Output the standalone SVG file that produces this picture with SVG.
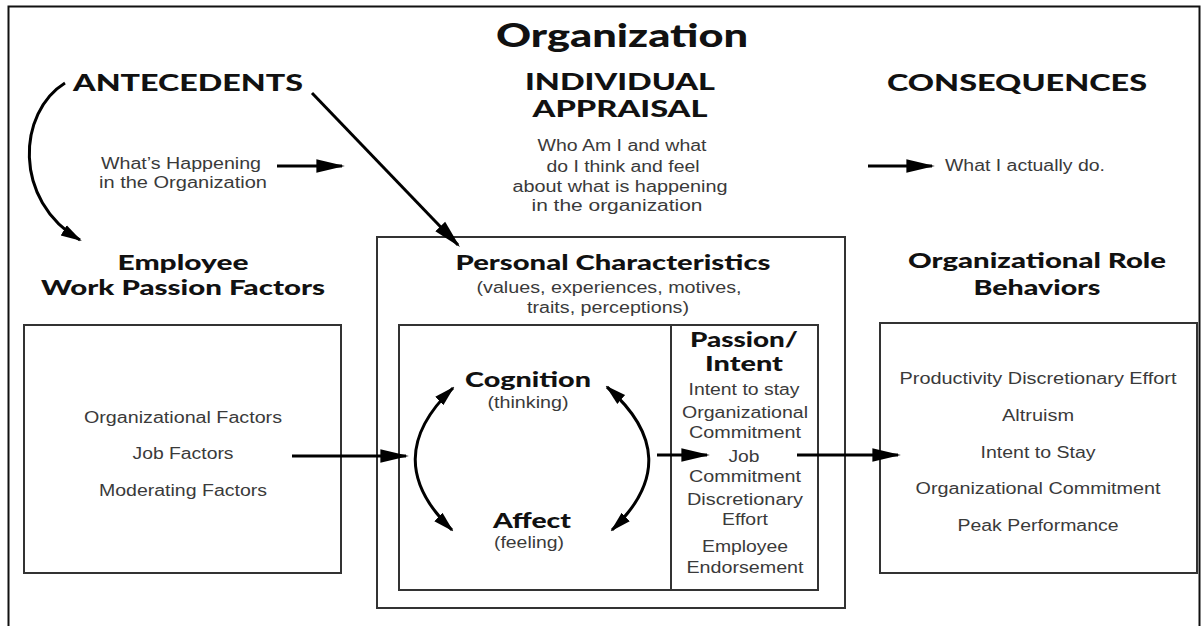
<svg xmlns="http://www.w3.org/2000/svg" width="1202" height="626" viewBox="0 0 1202 626">
  <style>
    .h { font-family: Lato, "Open Sans", "DejaVu Sans", sans-serif; font-weight: 900; fill: #111; text-anchor: middle; }
    .b { font-family: "Liberation Sans", Arial, sans-serif; font-size: 16px; fill: #3a3a3a; text-anchor: middle; }
    .box { fill: #fff; stroke: #333; stroke-width: 2; }
    .conn { fill: none; stroke: #000; stroke-width: 3; }
  </style>
  <defs>
    <marker id="ah" viewBox="0 0 10 10" refX="9" refY="5" markerWidth="9.5" markerHeight="9.5" orient="auto-start-reverse" markerUnits="strokeWidth">
      <path d="M0,2.6 L10,5 L0,7.4 Z" fill="#000"/>
    </marker>
    <marker id="ahs" viewBox="0 0 10 10" refX="9" refY="5" markerWidth="7" markerHeight="7" orient="auto-start-reverse" markerUnits="strokeWidth">
      <path d="M0,2.2 L10,5 L0,7.8 Z" fill="#000"/>
    </marker>
  </defs>

  <rect width="1202" height="626" fill="#fff"/>
  <!-- page frame -->
  <rect x="8.5" y="6.5" width="1191" height="640" fill="none" stroke="#111" stroke-width="2"/>

  <!-- column headings -->
  <g id="titles">
    <text class="h" x="622" y="47" font-size="33" textLength="252" lengthAdjust="spacingAndGlyphs">Organization</text>
    <text class="h" x="188" y="91" font-size="22" textLength="230" lengthAdjust="spacingAndGlyphs">ANTECEDENTS</text>
    <text class="h" x="620" y="90" font-size="22" textLength="190" lengthAdjust="spacingAndGlyphs">INDIVIDUAL</text>
    <text class="h" x="620" y="117" font-size="22" textLength="175" lengthAdjust="spacingAndGlyphs">APPRAISAL</text>
    <text class="h" x="1017" y="91" font-size="22" textLength="260" lengthAdjust="spacingAndGlyphs">CONSEQUENCES</text>
  </g>

  <g id="antecedents-note">
    <text class="b" x="181" y="169" textLength="160" lengthAdjust="spacingAndGlyphs">What’s Happening</text>
    <text class="b" x="183" y="188" textLength="168" lengthAdjust="spacingAndGlyphs">in the Organization</text>
  </g>

  <g id="appraisal-note">
    <text class="b" x="622" y="151" textLength="169" lengthAdjust="spacingAndGlyphs">Who Am I and what</text>
    <text class="b" x="623" y="172" textLength="153" lengthAdjust="spacingAndGlyphs">do I think and feel</text>
    <text class="b" x="620" y="192" textLength="215" lengthAdjust="spacingAndGlyphs">about what is happening</text>
    <text class="b" x="617" y="211" textLength="171" lengthAdjust="spacingAndGlyphs">in the organization</text>
  </g>

  <g id="consequences-note">
    <text class="b" x="945" y="171" textLength="160" lengthAdjust="spacingAndGlyphs" style="text-anchor:start">What I actually do.</text>
  </g>

  <!-- Employee Work Passion Factors -->
  <g id="work-passion-factors">
    <text class="h" x="183" y="270" font-size="21" textLength="131" lengthAdjust="spacingAndGlyphs">Employee</text>
    <text class="h" x="183" y="295" font-size="21" textLength="284" lengthAdjust="spacingAndGlyphs">Work Passion Factors</text>
    <rect class="box" x="24" y="325" width="317" height="248"/>
    <text class="b" x="183" y="423" textLength="198" lengthAdjust="spacingAndGlyphs">Organizational Factors</text>
    <text class="b" x="183" y="459" textLength="101" lengthAdjust="spacingAndGlyphs">Job Factors</text>
    <text class="b" x="183" y="496" textLength="168" lengthAdjust="spacingAndGlyphs">Moderating Factors</text>
  </g>

  <!-- Personal Characteristics -->
  <g id="personal-characteristics">
    <rect class="box" x="377" y="237" width="468" height="371"/>
    <text class="h" x="613" y="270" font-size="21" textLength="315" lengthAdjust="spacingAndGlyphs">Personal Characteristics</text>
    <text class="b" x="609" y="293" textLength="265" lengthAdjust="spacingAndGlyphs">(values, experiences, motives,</text>
    <text class="b" x="608" y="313" textLength="162" lengthAdjust="spacingAndGlyphs">traits, perceptions)</text>
    <rect class="box" x="399" y="325" width="419" height="265"/>
    <line x1="671" y1="325" x2="671" y2="590" stroke="#333" stroke-width="2"/>
  </g>

  <g id="cognition">
    <text class="h" x="528" y="387" font-size="21" textLength="126" lengthAdjust="spacingAndGlyphs">Cognition</text>
    <text class="b" x="528" y="408" textLength="81" lengthAdjust="spacingAndGlyphs">(thinking)</text>
  </g>

  <g id="affect">
    <text class="h" x="532" y="528" font-size="21" textLength="78" lengthAdjust="spacingAndGlyphs">Affect</text>
    <text class="b" x="529" y="548" textLength="70" lengthAdjust="spacingAndGlyphs">(feeling)</text>
  </g>

  <g id="passion-intent">
    <text class="h" x="744" y="347" font-size="21" textLength="108" lengthAdjust="spacingAndGlyphs">Passion/</text>
    <text class="h" x="744" y="371" font-size="21" textLength="78" lengthAdjust="spacingAndGlyphs">Intent</text>
    <text class="b" x="744" y="395" textLength="111" lengthAdjust="spacingAndGlyphs">Intent to stay</text>
    <text class="b" x="745" y="418" textLength="126" lengthAdjust="spacingAndGlyphs">Organizational</text>
    <text class="b" x="745" y="438" textLength="112" lengthAdjust="spacingAndGlyphs">Commitment</text>
    <text class="b" x="744" y="462" textLength="31" lengthAdjust="spacingAndGlyphs">Job</text>
    <text class="b" x="745" y="482" textLength="112" lengthAdjust="spacingAndGlyphs">Commitment</text>
    <text class="b" x="745" y="505" textLength="116" lengthAdjust="spacingAndGlyphs">Discretionary</text>
    <text class="b" x="745" y="525" textLength="46" lengthAdjust="spacingAndGlyphs">Effort</text>
    <text class="b" x="745" y="552" textLength="86" lengthAdjust="spacingAndGlyphs">Employee</text>
    <text class="b" x="745" y="573" textLength="117" lengthAdjust="spacingAndGlyphs">Endorsement</text>
  </g>

  <!-- Organizational Role Behaviors -->
  <g id="role-behaviors">
    <text class="h" x="1037" y="268" font-size="21" textLength="258" lengthAdjust="spacingAndGlyphs">Organizational Role</text>
    <text class="h" x="1037" y="295" font-size="21" textLength="127" lengthAdjust="spacingAndGlyphs">Behaviors</text>
    <rect class="box" x="880" y="323" width="317" height="250"/>
    <text class="b" x="1038" y="384" textLength="277" lengthAdjust="spacingAndGlyphs">Productivity Discretionary Effort</text>
    <text class="b" x="1038" y="421" textLength="72" lengthAdjust="spacingAndGlyphs">Altruism</text>
    <text class="b" x="1038" y="458" textLength="115" lengthAdjust="spacingAndGlyphs">Intent to Stay</text>
    <text class="b" x="1038" y="494" textLength="245" lengthAdjust="spacingAndGlyphs">Organizational Commitment</text>
    <text class="b" x="1038" y="531" textLength="161" lengthAdjust="spacingAndGlyphs">Peak Performance</text>
  </g>

  <g id="connectors">
    <path class="conn" d="M 65 83 C 18 112, 12 200, 80 240" marker-end="url(#ahs)"/>
    <path class="conn" d="M 312 93 L 458 245" marker-end="url(#ah)"/>
    <path class="conn" d="M 277 166 L 342 166" marker-end="url(#ah)"/>
    <path class="conn" d="M 868 166 L 932 166" marker-end="url(#ah)"/>
    <path class="conn" d="M 292 456 L 406 456" marker-end="url(#ah)"/>
    <path class="conn" d="M 453 388 Q 378 459 452 530" marker-start="url(#ahs)" marker-end="url(#ahs)"/>
    <path class="conn" d="M 607 387 Q 688 458 612 530" marker-start="url(#ahs)" marker-end="url(#ahs)"/>
    <path class="conn" d="M 657 455 L 707 455" marker-end="url(#ah)"/>
    <path class="conn" d="M 797 455 L 898 455" marker-end="url(#ah)"/>
  </g>
</svg>
